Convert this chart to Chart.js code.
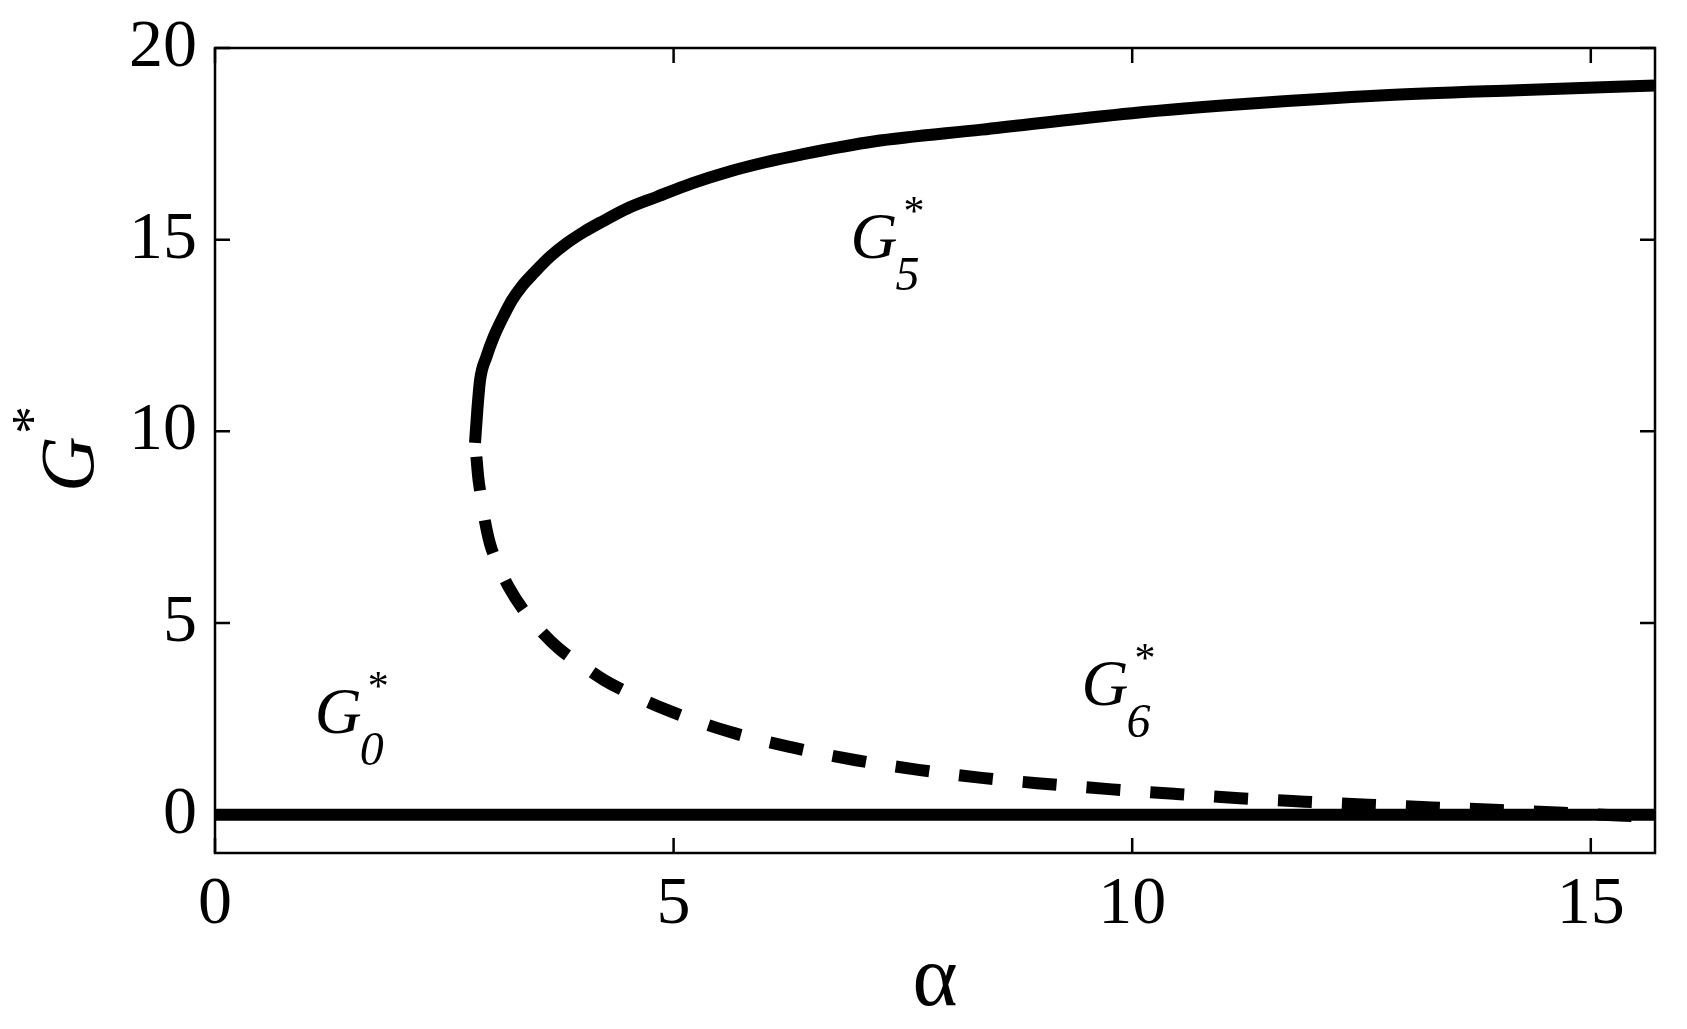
<!DOCTYPE html>
<html>
<head>
<meta charset="utf-8">
<script src="https://cdn.jsdelivr.net/npm/chart.js@4.4.1/dist/chart.umd.min.js"></script>
<style>
html, body { margin: 0; padding: 0; background: #fff; }
#wrap { width: 1687px; height: 1029px; }
</style>
</head>
<body>
<div id="wrap"><canvas id="chart" width="1687" height="1029"></canvas></div>
<script>
// axes
const xRange = [0, 15.7];
const yRange = [-1, 20];
const xTicks = [0, 5, 10, 15];
const yTicks = [0, 5, 10, 15, 20];

// G0* : trivial branch
const g0Alpha = [0, 15.7];
const g0Values = [0, 0];

// G5* : upper (stable) branch
const g5Alpha = [2.835, 2.86, 2.89, 2.96, 3.04, 3.14, 3.24, 3.35, 3.48, 3.65, 3.83, 4.02, 4.22, 4.50, 4.82, 5.20, 5.61, 6.00, 6.39, 7.18, 8.36, 10.0, 11.3, 12.7, 14.2, 15.7];
const g5Values = [9.70, 10.55, 11.34, 11.95, 12.47, 12.98, 13.43, 13.80, 14.14, 14.55, 14.90, 15.20, 15.47, 15.82, 16.12, 16.47, 16.78, 17.02, 17.22, 17.56, 17.87, 18.30, 18.55, 18.76, 18.90, 19.02];

// G6* : lower (unstable) branch
const g6Alpha = [2.835, 2.85, 2.87, 2.90, 2.94, 3.00, 3.08, 3.20, 3.36, 3.55, 3.75, 4.00, 4.25, 4.55, 4.94, 5.61, 6.28, 6.99, 7.67, 8.36, 9.07, 9.78, 10.48, 11.17, 11.88, 12.57, 13.27, 14.01, 14.7, 15.3, 15.7];
const g6Values = [9.70, 9.33, 8.80, 8.30, 7.70, 7.05, 6.55, 5.95, 5.35, 4.80, 4.33, 3.90, 3.50, 3.13, 2.72, 2.16, 1.76, 1.42, 1.17, 0.96, 0.80, 0.66, 0.54, 0.43, 0.34, 0.26, 0.19, 0.12, 0.05, -0.02, -0.07];

// branch labels (subscript, anchor in data coords)
const branchNames = ['5', '6', '0'];
const branchAlpha = [6.95, 9.47, 1.11];
const branchG = [14.53, 2.86, 2.13];

const serif = 'Liberation Serif, Times New Roman, serif';

function toPoints(xs, ys) {
    return xs.map((x, i) => ({ x: x, y: ys[i] }));
}

const framePlugin = {
    id: 'frame',
    afterDraw(chart) {
        const ctx = chart.ctx;
        const a = chart.chartArea;
        const xs = chart.scales.x;
        const ys = chart.scales.y;
        ctx.save();
        ctx.strokeStyle = '#000';
        ctx.lineWidth = 2.5;
        ctx.strokeRect(a.left, a.top, a.right - a.left, a.bottom - a.top);

        // inward ticks on all four sides
        const tl = 15;
        ctx.beginPath();
        xTicks.forEach(v => {
            const px = xs.getPixelForValue(v);
            ctx.moveTo(px, a.bottom); ctx.lineTo(px, a.bottom - tl);
            ctx.moveTo(px, a.top); ctx.lineTo(px, a.top + tl);
        });
        yTicks.forEach(v => {
            const py = ys.getPixelForValue(v);
            ctx.moveTo(a.left, py); ctx.lineTo(a.left + tl, py);
            ctx.moveTo(a.right, py); ctx.lineTo(a.right - tl, py);
        });
        ctx.stroke();

        ctx.fillStyle = '#000';
        ctx.textBaseline = 'alphabetic';

        // x title
        ctx.font = '86px ' + serif;
        ctx.textAlign = 'center';
        ctx.fillText('α', (a.left + a.right) / 2, 1005);

        // y title, rotated
        ctx.save();
        ctx.translate(67, 449);
        ctx.rotate(-Math.PI / 2);
        ctx.textAlign = 'left';
        ctx.font = 'italic 77px ' + serif;
        ctx.fillText('G', -43, 26);
        ctx.font = '56px ' + serif;
        ctx.fillText('*', 15, -16);
        ctx.restore();

        // branch labels
        ctx.textAlign = 'left';
        branchNames.forEach((name, i) => {
            const px = xs.getPixelForValue(branchAlpha[i]);
            const py = ys.getPixelForValue(branchG[i]);
            ctx.font = 'italic 65px ' + serif;
            ctx.fillText('G', px - 2, py);
            ctx.font = 'italic 48px ' + serif;
            ctx.fillText(name, px + 43, py + 32);
            ctx.font = '42px ' + serif;
            ctx.fillText('*', px + 51, py - 33);
        });
        ctx.restore();
    }
};

const lineStyle = {
    showLine: true,
    pointRadius: 0,
    borderColor: '#000',
    backgroundColor: '#000',
    borderWidth: 12,
    fill: false,
    borderCapStyle: 'butt',
    borderJoinStyle: 'round',
    cubicInterpolationMode: 'monotone'
};

new Chart(document.getElementById('chart'), {
    type: 'scatter',
    data: {
        datasets: [
            Object.assign({ label: 'G0*', data: toPoints(g0Alpha, g0Values) }, lineStyle),
            Object.assign({ label: 'G5*', data: toPoints(g5Alpha, g5Values) }, lineStyle),
            Object.assign({ label: 'G6*', data: toPoints(g6Alpha, g6Values), borderDash: [34, 30], borderDashOffset: 50 }, lineStyle)
        ]
    },
    options: {
        responsive: false,
        animation: false,
        events: [],
        layout: { padding: { top: 48, right: 32, bottom: 0, left: 0 } },
        plugins: {
            legend: { display: false },
            tooltip: { enabled: false }
        },
        scales: {
            x: {
                type: 'linear',
                min: xRange[0],
                max: xRange[1],
                afterBuildTicks: s => { s.ticks = xTicks.map(v => ({ value: v })); },
                afterFit: s => { s.height = 176; s.paddingLeft = 0; s.paddingRight = 0; },
                grid: { display: false, drawTicks: false },
                border: { display: false },
                ticks: {
                    color: '#000',
                    font: { family: serif, size: 68 },
                    padding: 11,
                    maxRotation: 0,
                    autoSkip: false
                }
            },
            y: {
                type: 'linear',
                min: yRange[0],
                max: yRange[1],
                afterBuildTicks: s => { s.ticks = yTicks.map(v => ({ value: v })); },
                afterFit: s => { s.width = 215; s.paddingTop = 0; s.paddingBottom = 0; },
                grid: { display: false, drawTicks: false },
                border: { display: false },
                ticks: {
                    color: '#000',
                    font: { family: serif, size: 68 },
                    padding: 18,
                    autoSkip: false
                }
            }
        }
    },
    plugins: [framePlugin]
});
</script>
</body>
</html>
